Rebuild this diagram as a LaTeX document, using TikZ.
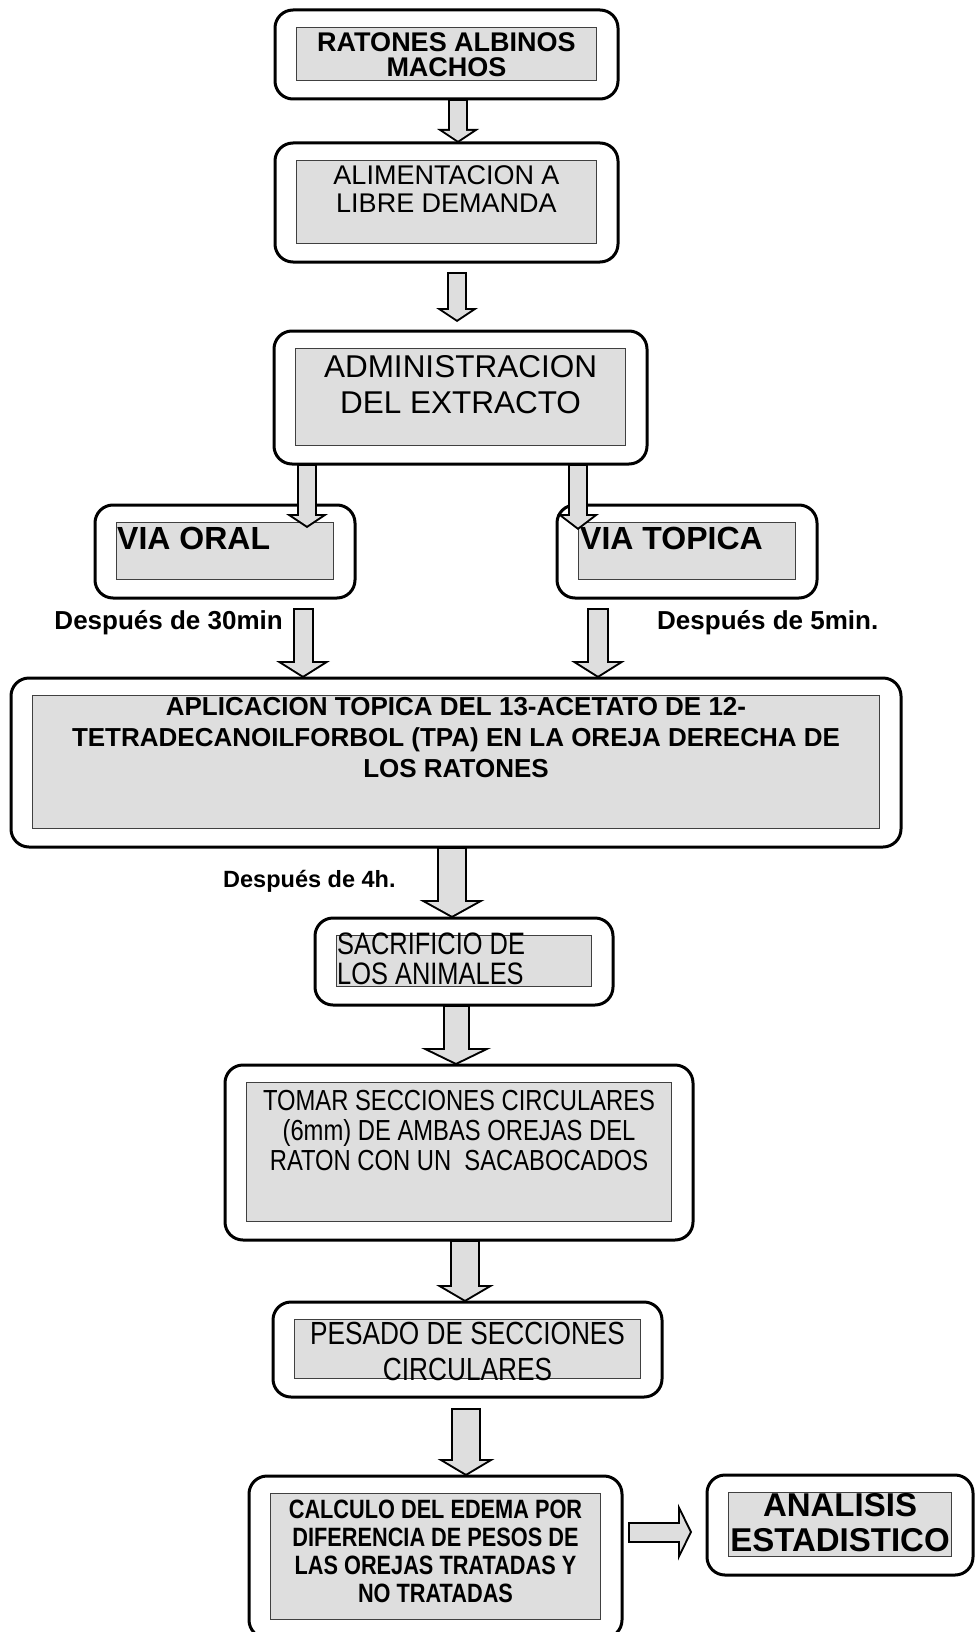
\documentclass[tikz,border=0pt]{standalone}
\usepackage{fontspec}
\setmainfont{Liberation Sans}
\newfontfamily\angosta[FakeStretch=0.82]{Liberation Sans}
\usetikzlibrary{arrows.meta, positioning, calc}
\colorlet{gris}{black!13}

\begin{document}
\begin{tikzpicture}
[x=1pt, y=-1pt,
Caja/.style={draw=black, line width=3pt, rounded corners=18pt,
  outer sep=0pt, inner sep=0pt,
  path picture={\draw[Fondo] ([shift={(21pt,-17pt)}]path picture bounding box.north west)
    rectangle ([shift={(-22pt,19pt)}]path picture bounding box.south east);}},
Fondo/.style={sharp corners, fill=gris, draw=black!75, line width=0.8pt},
Texto/.style={inner sep=0pt, align=center},
Etiqueta/.style={inner sep=0pt, font=\fontsize{26}{26}\selectfont\bfseries},
Flecha/.style n args={3}{
  /utils/exec={\pgfmathsetmacro\fS{#1-4}
    \pgfmathsetmacro\fbk{2/sin(atan(#2/(2*#3)))}
    \pgfmathsetmacro\fL{#3-2-\fbk}
    \pgfmathsetmacro\fH{\fL*#2/#3}},
  draw=black, line width=#1pt,
  -{Triangle[length=#3pt, width=#2pt, line width=0pt]},
  postaction={draw=gris, line width=\fS pt, shorten <=2pt, shorten >=\fbk pt,
    -{Triangle[length=\fL pt, width=\fH pt, line width=0pt]}}}
]
\useasboundingbox (0,0) rectangle (976,1632);

\node[Caja, minimum width=343pt, minimum height=89pt] (ratones) at (446.5,54.5) {};
\node[Texto, below=22pt of ratones.north, font=\fontsize{27}{25}\selectfont\bfseries] (ratonesT) {RATONES ALBINOS\\MACHOS};

\node[Caja, minimum width=343pt, minimum height=119pt] (alimentacion) [below=44pt of ratones] {};
\node[Texto, below=22pt of alimentacion.north, font=\fontsize{27}{28}\selectfont] (alimentacionT) {ALIMENTACION A\\LIBRE DEMANDA};

\node[Caja, minimum width=373pt, minimum height=133pt] (administracion) [below=69pt of alimentacion, xshift=14pt] {};
\node[Texto, below=24pt of administracion.north, font=\fontsize{31.5}{36}\selectfont] (administracionT) {ADMINISTRACION\\DEL EXTRACTO};

\node[Caja, minimum width=260pt, minimum height=93pt] (oral) [below=41pt of administracion, xshift=-235.5pt] {};
\node[Texto, below right=22pt and 22pt of oral.north west, font=\fontsize{32}{32}\selectfont\bfseries] (oralT) {VIA ORAL};

\node[Caja, minimum width=260pt, minimum height=93pt] (topica) [right=202pt of oral] {};
\node[Texto, below right=22pt and 23pt of topica.north west, font=\fontsize{32}{32}\selectfont\bfseries] (topicaT) {VIA TOPICA};

\node[Caja, minimum width=890pt, minimum height=169pt] (aplicacion) [below=80pt of oral, xshift=231pt] {};
\node[Texto, below=19pt of aplicacion.north, font=\fontsize{26}{31}\selectfont\bfseries] (aplicacionT) {APLICACION TOPICA DEL 13-ACETATO DE 12-\\TETRADECANOILFORBOL (TPA) EN LA OREJA DERECHA DE\\LOS RATONES};

\node[Caja, minimum width=298pt, minimum height=87pt] (sacrificio) [below=71pt of aplicacion, xshift=8pt] {};
\node[Texto, align=left, below right=15pt and 22pt of sacrificio.north west, font=\angosta\fontsize{31}{30}\selectfont] (sacrificioT) {SACRIFICIO DE\\LOS ANIMALES};

\node[Caja, minimum width=468pt, minimum height=175pt] (tomar) [below=60pt of sacrificio, xshift=-5pt] {};
\node[Texto, below=25pt of tomar.north, font=\angosta\fontsize{29}{30}\selectfont] (tomarT) {TOMAR SECCIONES CIRCULARES\\(6mm) DE AMBAS OREJAS DEL\\RATON CON UN\ \ SACABOCADOS};

\node[Caja, minimum width=389pt, minimum height=95pt] (pesado) [below=62pt of tomar, xshift=8.5pt] {};
\node[Texto, below=20pt of pesado.north, font=\angosta\fontsize{32}{36}\selectfont] (pesadoT) {PESADO DE SECCIONES\\CIRCULARES};

\node[Caja, minimum width=373pt, minimum height=162pt] (calculo) [below=79pt of pesado, xshift=-32pt] {};
\node[Texto, below=24pt of calculo.north, font=\angosta\fontsize{26.5}{28}\selectfont\bfseries] (calculoT) {CALCULO DEL EDEMA POR\\DIFERENCIA DE PESOS DE\\LAS OREJAS TRATADAS Y\\NO TRATADAS};

\node[Caja, minimum width=266pt, minimum height=100pt] (analisis) [right=85pt of calculo, yshift=32pt] {};
\node[Texto, below=18pt of analisis.north, font=\fontsize{33}{35}\selectfont\bfseries] (analisisT) {ANALISIS\\ESTADISTICO};

\node[Etiqueta, anchor=base east] (despues30) at (283,629) {Después de 30min};
\node[Etiqueta, anchor=base west] (despues5) at (657,629) {Después de 5min.};
\node[Etiqueta, anchor=base west, font=\fontsize{23.5}{24}\selectfont\bfseries] (despues4) at (223,887) {Después de 4h.};

\draw[Flecha={20}{42}{14}] (ratones.south -| 458,0) -- (alimentacion.north -| 458,0);
\draw[Flecha={20}{42}{14}] ($(alimentacion.south -| 457,0)+(0,10)$) -- ($(administracion.north -| 457,0)+(0,-9)$);
\draw[Flecha={20}{42}{14}] (administracion.south -| 307,0) -- ($(oral.north -| 307,0)+(0,23)$);
\draw[Flecha={20}{42}{16}] (administracion.south -| 578,0) -- ($(topica.north -| 578,0)+(0,25)$);
\draw[Flecha={21}{54}{17}] ($(oral.south -| 303,0)+(0,10)$) -- (aplicacion.north -| 303,0);
\draw[Flecha={22}{54}{17}] ($(topica.south -| 598,0)+(0,10)$) -- (aplicacion.north -| 598,0);
\draw[Flecha={30}{65}{18}] (aplicacion.south -| 452,0) -- (sacrificio.north -| 452,0);
\draw[Flecha={27}{70}{17}] (sacrificio.south -| 456,0) -- (tomar.north -| 456,0);
\draw[Flecha={30}{58}{17}] (tomar.south -| 465,0) -- (pesado.north -| 465,0);
\draw[Flecha={30}{57}{17}] ($(pesado.south -| 466,0)+(0,11)$) -- (calculo.north -| 466,0);
\draw[Flecha={21}{57}{14}] ($(calculo.east |- 0,1532)+(6,0)$) -- ($(analisis.west |- 0,1532)+(-15,0)$);
\end{tikzpicture}
\end{document}
